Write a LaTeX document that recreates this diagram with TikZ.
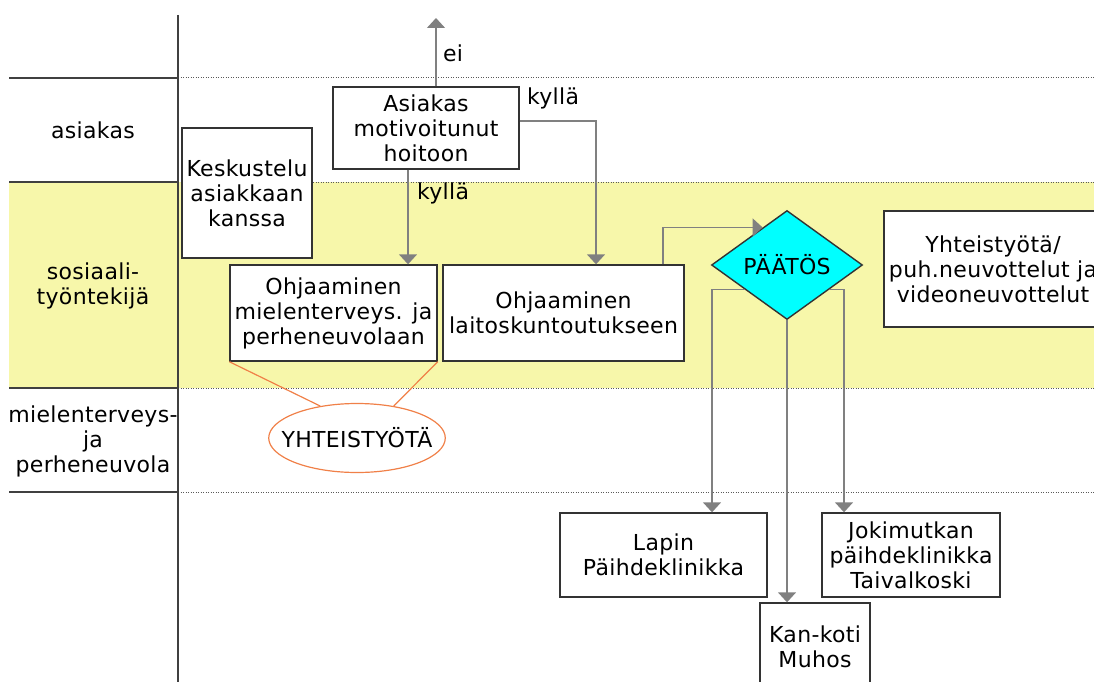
\documentclass[tikz,border=0pt]{standalone}
\usepackage{fontspec}
\setmainfont{DejaVu Sans}[LetterSpace=1.5]
\usetikzlibrary{shapes.geometric,arrows.meta}
\definecolor{kelta}{RGB}{247,247,170}
\definecolor{oranssi}{RGB}{240,128,72}
\definecolor{syaani}{RGB}{0,255,255}
\begin{document}
\begin{tikzpicture}[x=1pt,y=-1pt,font=\fontsize{22}{25}\selectfont,
  box/.style={draw=black!80,line width=1.4pt,fill=white,align=center,inner sep=0pt},
  nuoli/.style={draw=black!50,line width=1.4pt,-{Triangle[width=18pt,length=10pt]}},
  raja/.style={black!65,dash pattern=on 1pt off 1.5pt,line width=1pt}]
\useasboundingbox (0,0) rectangle (1094,682);
\fill[kelta] (9,182) rectangle (1094,388);
\foreach \y in {78,182,388,492}{
  \draw[black!75,line width=1.4pt] (9,\y) -- (178,\y);
  \draw[raja] (178,\y) -- (1094,\y);}
\draw[black!75,line width=1.4pt] (178,15) -- (178,682);
\node[align=center] (asiakas) at (93,130) {asiakas};
\node[align=center] (sostt) at (93,286) {sosiaali-\\työntekijä};
\node[align=center] (mtpn) at (93,441) {mielenterveys-\\ja\\perheneuvola};
\node[box,minimum width=186,minimum height=82] (motiv) at (426,128) {Asiakas\\motivoitunut\\hoitoon};
\node[box,minimum width=130,minimum height=130] (kesk) at (247,193) {Keskustelu\\asiakkaan\\kanssa};
\node[box,minimum width=207,minimum height=96] (ohjmt) at (333.5,313) {Ohjaaminen\\mielenterveys. ja\\perheneuvolaan};
\node[box,minimum width=241,minimum height=96] (ohjlk) at (563.5,313) {Ohjaaminen\\laitoskuntoutukseen};
\node[diamond,draw=black!80,line width=1.4pt,fill=syaani,aspect=1.39,minimum width=151,minimum height=109,inner sep=0pt] (paatos) at (787,265) {PÄÄTÖS};
\node[box,minimum width=218,minimum height=116] (yht) at (993,269) {Yhteistyötä/\\puh.neuvottelut ja\\videoneuvottelut};
\node[box,minimum width=207,minimum height=84] (lapin) at (663.5,555) {Lapin\\Päihdeklinikka};
\node[box,minimum width=178,minimum height=84] (joki) at (911,555) {Jokimutkan\\päihdeklinikka\\Taivalkoski};
\node[box,minimum width=110,minimum height=88] (kan) at (815,647) {Kan-koti\\Muhos};
\node[ellipse,draw=oranssi,line width=1.2pt,minimum height=69,inner xsep=-13pt,inner ysep=0pt] (yt) at (357,438) {YHTEISTYÖTÄ};
\draw[oranssi,line width=1.2pt] (yt.139) -- (ohjmt.south west);
\draw[oranssi,line width=1.2pt] (yt.41) -- (ohjmt.south east);
\coordinate (ei) at (436,18);
\coordinate (k1) at (596,121);
\coordinate (k2) at (408,0);
\coordinate (k3) at (663,0);
\coordinate (k4) at (712,0);
\coordinate (k5) at (844,0);
\draw[nuoli] (motiv.north -| ei) -- (ei);
\draw[nuoli] (motiv.east |- k1) -| (ohjlk.north -| k1);
\draw[nuoli] (motiv.south -| k2) -- (ohjmt.north -| k2);
\draw[nuoli] (ohjlk.north -| k3) |- (paatos.123);
\draw[nuoli] (paatos.210) -| (lapin.north -| k4);
\draw[nuoli] (paatos.-30) -| (joki.north -| k5);
\draw[nuoli] (paatos.south) -- (kan.north -| paatos.south);
\node (lei) at (453,53) {ei};
\node (lk1) at (553,98) {kyllä};
\node (lk2) at (443,193) {kyllä};
\end{tikzpicture}
\end{document}
